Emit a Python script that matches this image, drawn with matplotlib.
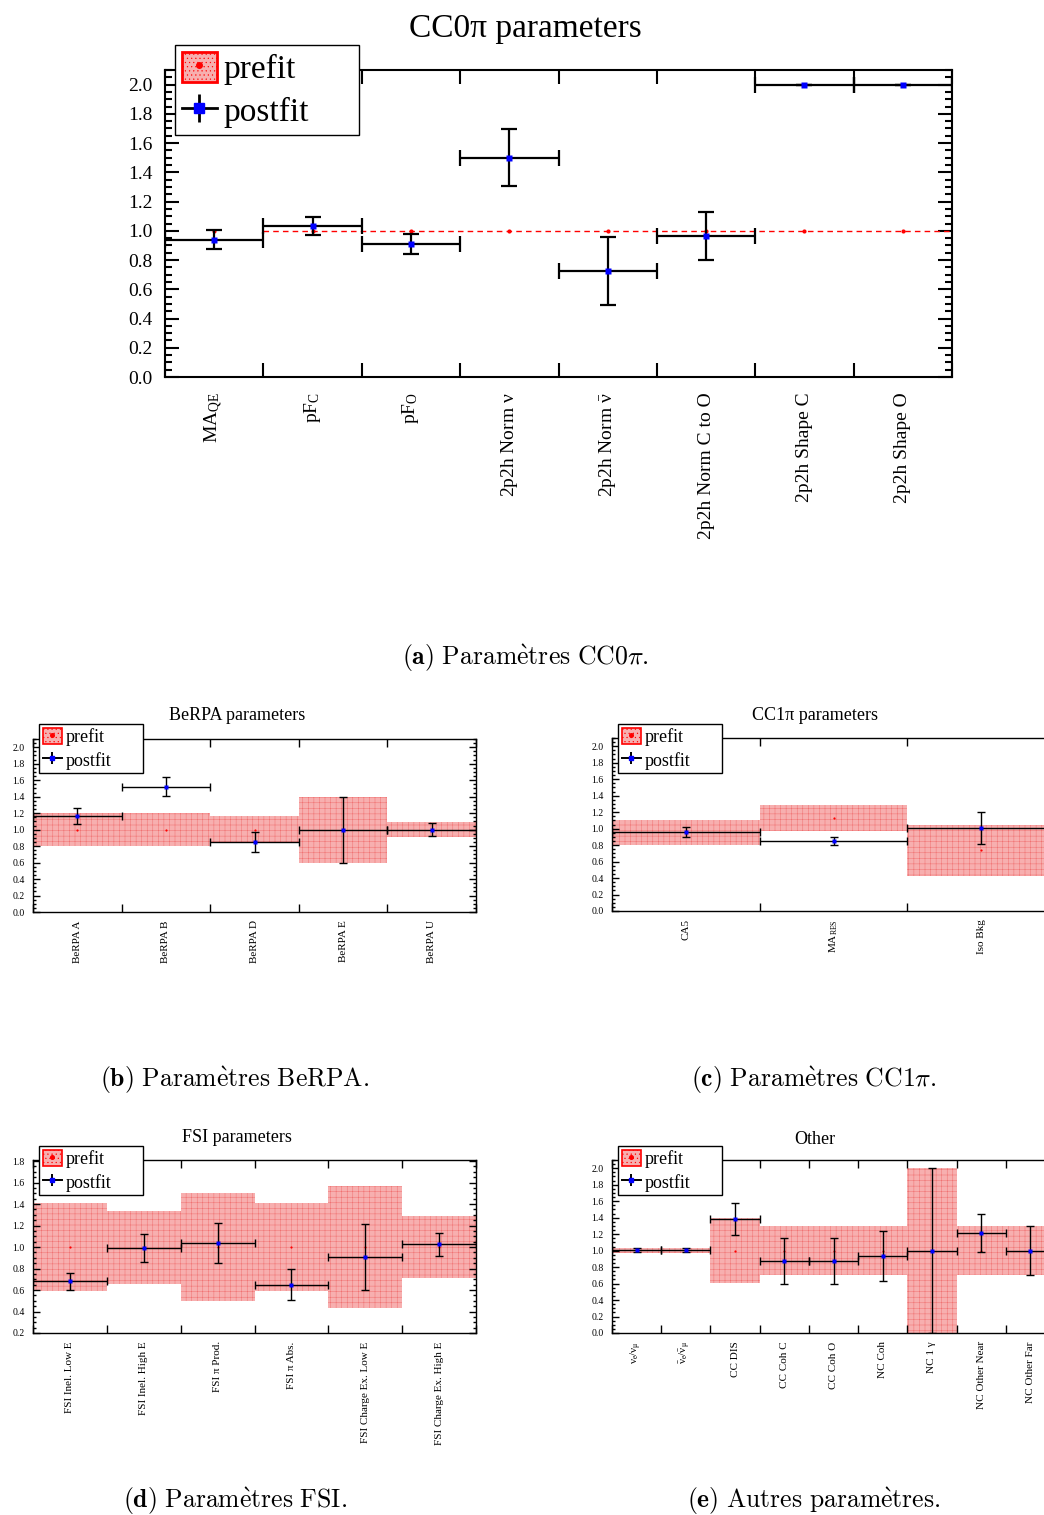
import numpy as np
import matplotlib
matplotlib.use('Agg')
import matplotlib.pyplot as plt
from matplotlib.lines import Line2D
from matplotlib.patches import Patch
from matplotlib.ticker import MultipleLocator, FixedLocator

plt.rcParams['font.family'] = ['Liberation Serif', 'DejaVu Serif']
plt.rcParams['mathtext.fontset'] = 'custom'
plt.rcParams['mathtext.rm'] = 'Liberation Serif'
plt.rcParams['mathtext.it'] = 'Liberation Serif'
plt.rcParams['mathtext.bf'] = 'Liberation Serif:bold'
plt.rcParams['hatch.linewidth'] = 0.35

# === Donnees ===
cc0_labels = [r"MA$_{\rm QE}$", r"pF$_{\rm C}$", r"pF$_{\rm O}$", r"2p2h Norm $\nu$",
              r"2p2h Norm $\bar{\nu}$", "2p2h Norm C to O", "2p2h Shape C", "2p2h Shape O"]
cc0_pre = [1.0, 1.0, 1.0, 1.0, 1.0, 1.0, 1.0, 1.0]
cc0_post = [0.94, 1.03, 0.91, 1.50, 0.725, 0.965, 2.00, 2.00]
cc0_post_err = [0.066, 0.062, 0.067, 0.195, 0.232, 0.167, 0.0, 0.0]

berpa_labels = ["BeRPA A", "BeRPA B", "BeRPA D", "BeRPA E", "BeRPA U"]
berpa_pre = [1.0, 1.0, 1.0, 1.0, 1.0]
berpa_pre_err = [0.2, 0.2, 0.16, 0.4, 0.09]
berpa_post = [1.17, 1.52, 0.85, 1.0, 1.0]
berpa_post_err = [0.097, 0.113, 0.12, 0.40, 0.083]

cc1_labels = ["CA5", r"MA$_{\rm RES}$", "Iso Bkg"]
cc1_pre = [0.95, 1.13, 0.735]
cc1_pre_err = [0.15, 0.16, 0.31]
cc1_post = [0.96, 0.85, 1.01]
cc1_post_err = [0.063, 0.047, 0.197]

fsi_labels = ["FSI Inel. Low E", "FSI Inel. High E", "FSI π Prod.", "FSI π Abs.",
              "FSI Charge Ex. Low E", "FSI Charge Ex. High E"]
fsi_pre = [1.0, 1.0, 1.0, 1.0, 1.0, 1.0]
fsi_pre_err = [0.41, 0.34, 0.50, 0.41, 0.57, 0.29]
fsi_post = [0.68, 0.99, 1.04, 0.65, 0.91, 1.025]
fsi_post_err = [0.082, 0.128, 0.186, 0.146, 0.307, 0.105]

other_labels = [r"$\nu_{e}/\nu_{\mu}$", r"$\bar{\nu}_{e}/\bar{\nu}_{\mu}$", "CC DIS", "CC Coh C",
                "CC Coh O", "NC Coh", "NC 1 γ", "NC Other Near", "NC Other Far"]
other_pre = [1.0, 1.0, 1.0, 1.0, 1.0, 1.0, 1.0, 1.0, 1.0]
other_pre_err = [0.03, 0.03, 0.39, 0.30, 0.30, 0.30, 1.0, 0.30, 0.30]
other_post = [1.008, 1.008, 1.385, 0.874, 0.874, 0.935, 1.0, 1.215, 1.0]
other_post_err = [0.025, 0.025, 0.197, 0.283, 0.283, 0.298, 1.0, 0.235, 0.30]

W, H = 1044, 1515
fig = plt.figure(figsize=(W / 100, H / 100), dpi=100)

BAND = '#f7afaf'
HATCH = '#f07070'


def rect(l, t, r, b):
    return [l / W, 1 - b / H, (r - l) / W, (b - t) / H]


def panel(box, labels, post, post_err, ylim, pre, pre_err=None, big=False,
          legend_box=None, title=None, title_xy=None):
    ax = fig.add_axes(rect(*box))
    n = len(labels)
    edges = np.arange(n + 1)
    centers = np.arange(n) + 0.5
    if big:
        lw, spine, cap, ms, dot = 1.6, 1.5, 6, 5, 3
        tfs, lfs, legfs, tfs_title = 14, 14, 24, 24
        maj, mnr, xt, pad_y, pad_x = 10, 5, 10, 9, 11
        lspace = 0.3
    else:
        lw, spine, cap, ms, dot = 1.0, 1.0, 3, 2.3, 1.6
        tfs, lfs, legfs, tfs_title = 7, 8, 13, 13
        maj, mnr, xt, pad_y, pad_x = 5, 2.5, 6, 6, 6
        lspace = 0.3

    if pre_err is not None:
        ax.bar(centers, 2 * np.array(pre_err), bottom=np.array(pre) - np.array(pre_err),
               width=1.0, color=BAND, edgecolor=HATCH, linewidth=0, hatch='+++', zorder=1)
        ax.plot(centers, pre, 'o', color='red', ms=dot, mec='none', zorder=2)
    else:
        ax.stairs(pre[1:], edges[1:], color='red', ls=(0, (4, 3)), lw=1.0, baseline=None, zorder=2)
        ax.plot(centers, pre, 'o', color='red', ms=dot, mec='none', zorder=2)

    ax.errorbar(centers, post, xerr=0.5, yerr=post_err, fmt='none', ecolor='black',
                elinewidth=lw, capsize=cap, capthick=lw, zorder=3)
    ax.plot(centers, post, 's', color='blue', ms=ms, mec='none', zorder=4)

    ax.set_xlim(0, n)
    ax.set_ylim(*ylim)
    ax.set_xticks(centers)
    ax.set_xticklabels(labels, rotation=90, fontsize=lfs)
    ax.xaxis.set_minor_locator(FixedLocator(edges))
    ax.tick_params(axis='x', which='major', length=0, pad=pad_x)
    ax.tick_params(axis='x', which='minor', direction='in', length=xt, width=spine,
                   top=True, bottom=True)
    ax.yaxis.set_major_locator(MultipleLocator(0.2))
    ax.yaxis.set_minor_locator(MultipleLocator(0.05))
    ax.yaxis.set_major_formatter(matplotlib.ticker.FormatStrFormatter('%.1f'))
    ax.tick_params(axis='y', which='both', direction='in', left=True, right=True,
                   width=spine, labelsize=tfs, pad=pad_y)
    ax.tick_params(axis='y', which='major', length=maj)
    ax.tick_params(axis='y', which='minor', length=mnr)
    for s in ax.spines.values():
        s.set_linewidth(spine)

    pre_h = (Patch(facecolor=BAND, edgecolor='red', linewidth=2 if big else 1.2, hatch='....'),
             Line2D([], [], marker='o', color='red', ls='None', ms=dot + 1))
    post_h = (Line2D([], [], color='black', lw=lw + 0.4),
              Line2D([], [], color='black', marker='|', ls='None', ms=ms * 4, mew=lw + 0.4),
              Line2D([], [], color='blue', marker='s', ls='None', ms=ms * 1.3))
    lx, ly, lw_, lh = legend_box
    leg = ax.legend([pre_h, post_h], ['prefit', 'postfit'], loc='upper left',
                    bbox_to_anchor=(lx / W, 1 - (ly + lh) / H, lw_ / W, lh / H),
                    bbox_transform=fig.transFigure, mode='expand', fontsize=legfs,
                    frameon=True, fancybox=False, edgecolor='black', framealpha=1,
                    borderaxespad=0, borderpad=0.2, labelspacing=lspace, handlelength=1.05,
                    handletextpad=0.2, handleheight=1.0)
    leg.get_frame().set_linewidth(1.0)
    leg.set_zorder(10)
    fig.text(title_xy[0] / W, 1 - title_xy[1] / H, title, ha='center', va='center',
             fontsize=tfs_title)
    return ax


panel((165, 70, 952, 377), cc0_labels, cc0_post, cc0_post_err, (0, 2.1), cc0_pre,
      big=True, legend_box=(175, 45, 184, 86), title="CC0π parameters", title_xy=(525, 29))
panel((33, 739, 476, 912), berpa_labels, berpa_post, berpa_post_err, (0, 2.1),
      berpa_pre, berpa_pre_err, legend_box=(39, 724, 104, 49), title="BeRPA parameters",
      title_xy=(237, 715))
panel((612, 738, 1055, 911), cc1_labels, cc1_post, cc1_post_err, (0, 2.1),
      cc1_pre, cc1_pre_err, legend_box=(618, 724, 104, 49), title="CC1π parameters",
      title_xy=(815, 715))
panel((33, 1160, 476, 1333), fsi_labels, fsi_post, fsi_post_err, (0.2, 1.81),
      fsi_pre, fsi_pre_err, legend_box=(39, 1146, 104, 49), title="FSI parameters",
      title_xy=(237, 1137))
panel((612, 1160, 1055, 1333), other_labels, other_post, other_post_err, (0, 2.1),
      other_pre, other_pre_err, legend_box=(618, 1146, 104, 49), title="Other",
      title_xy=(815, 1139))

# === Legendes des sous-figures ===
captions = [
    (525, 658, r"$\mathbf{(a)}\ \mathrm{Param\grave{e}tres\ CC0}\pi\mathrm{.}$"),
    (235, 1080, r"$\mathbf{(b)}\ \mathrm{Param\grave{e}tres\ BeRPA.}$"),
    (814, 1080, r"$\mathbf{(c)}\ \mathrm{Param\grave{e}tres\ CC1}\pi\mathrm{.}$"),
    (235, 1501, r"$\mathbf{(d)}\ \mathrm{Param\grave{e}tres\ FSI.}$"),
    (814, 1501, r"$\mathbf{(e)}\ \mathrm{Autres\ param\grave{e}tres.}$"),
]
for x, y, s in captions:
    fig.text(x / W, 1 - y / H, s, ha='center', va='center', fontsize=18.5,
             math_fontfamily='cm')

fig.savefig("out.png", dpi=100)
